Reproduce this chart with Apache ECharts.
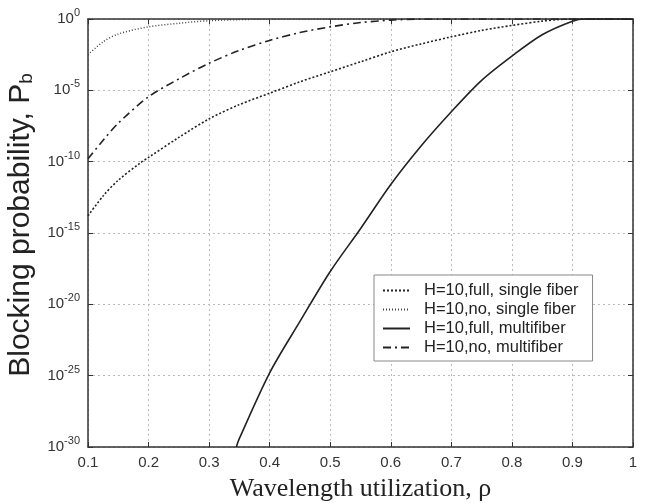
<!DOCTYPE html>
<html><head><meta charset="utf-8">
<script src="https://cdn.jsdelivr.net/npm/echarts@6/dist/echarts.min.js"></script>
<style>html,body{margin:0;padding:0;background:#fff}#c{width:647px;height:503px}</style>
</head><body><div id="c"></div>
<script>
// x values (wavelength utilization) and log10 of blocking probability (exponents)
const fullSingleX = [0.1,0.125,0.15,0.186,0.2,0.25,0.3,0.35,0.4,0.45,0.5,0.55,0.6,0.65,0.7,0.75,0.8,0.85,0.88,0.9,1.0];
const fullSingleE = [-13.8,-12.4,-11.3,-10.1,-9.7,-8.3,-7.0,-6.0,-5.2,-4.4,-3.7,-3.0,-2.3,-1.75,-1.25,-0.8,-0.45,-0.15,-0.03,0,0];
const noSingleX = [0.1,0.125,0.15,0.2,0.25,0.3,0.35,0.4,0.45,1.0];
const noSingleE = [-2.5,-1.6,-1.05,-0.55,-0.3,-0.12,-0.04,-0.01,0,0];
const fullMultiX = [0.345,0.35,0.4,0.45,0.5,0.55,0.6,0.65,0.7,0.75,0.8,0.85,0.9,0.92,1.0];
const fullMultiE = [-30,-29.4,-24.8,-21.2,-17.7,-14.7,-11.6,-8.9,-6.5,-4.3,-2.6,-1.1,-0.15,0,0];
const noMultiX = [0.1,0.125,0.15,0.2,0.25,0.3,0.35,0.4,0.45,0.5,0.55,0.6,0.65,1.0];
const noMultiE = [-9.8,-8.5,-7.3,-5.45,-4.2,-3.1,-2.2,-1.5,-0.95,-0.55,-0.25,-0.08,0,0];
const seriesNames = ['H=10,full, single fiber','H=10,no, single fiber','H=10,full, multifiber','H=10,no, multifiber'];
const xTicks = [0.1,0.2,0.3,0.4,0.5,0.6,0.7,0.8,0.9,1];
const yExpTicks = [-30,-25,-20,-15,-10,-5,0];

function pairs(xs, es){ return xs.map((x,i)=>[x, es[i]]); }

const chart = echarts.init(document.getElementById('c'), null, {renderer:'canvas'});
const axisCol = '#333';
const tickFont = 'Liberation Sans, Arial, sans-serif';
function baseY(show){
  return {
    type:'value', min:-30, max:0, interval:5,
    position: show ? 'left' : 'right',
    axisLine:{show:true, onZero:false, lineStyle:{color:axisCol, width:1.5}},
    axisTick:{show:true, inside:true, length:5, lineStyle:{color:axisCol}},
    axisLabel: show ? {
      show:true, margin:8, color:'#333', fontFamily:tickFont, fontSize:15,
      formatter:function(v){ const e=Math.round(v); return yExpTicks.indexOf(e)>=0 ? '{b|10}{s|'+e+'}' : ''; },
      rich:{ b:{fontSize:15, fontFamily:tickFont, color:'#333'}, s:{fontSize:11, fontFamily:tickFont, color:'#333', padding:[0,0,12,0]} }
    } : {show:false},
    splitLine:{show:show, lineStyle:{color:'#bbb', type:[2,3], width:1}},
    name: show ? '{n|Blocking probability, P}{sub|b}' : '',
    nameLocation:'middle', nameGap:37, nameRotate:90,
    nameTextStyle:{ padding:[0,0,0,16], rich:{ n:{fontSize:30, fontFamily:tickFont, color:'#222'}, sub:{fontSize:19, fontFamily:tickFont, color:'#222', padding:[12,0,0,0]} } }
  };
}
function baseX(show){
  return {
    type:'value', min:0.1, max:1, interval:0.1,
    position: show ? 'bottom' : 'top',
    axisLine:{show:true, onZero:false, lineStyle:{color:axisCol, width:1.5}},
    axisTick:{show:true, inside:true, length:5, lineStyle:{color:axisCol}},
    axisLabel: show ? {show:true, margin:8, color:'#333', fontFamily:tickFont, fontSize:15,
      formatter:function(v){ const r=Math.round(v*10)/10; return xTicks.indexOf(r)>=0 ? String(r) : ''; } } : {show:false},
    splitLine:{show:show, lineStyle:{color:'#bbb', type:[2,3], width:1}},
    name: show ? 'Wavelength utilization, ρ' : '',
    nameLocation:'middle', nameGap:29,
    nameTextStyle:{fontSize:26, fontFamily:'Liberation Serif, Times New Roman, serif', color:'#222'}
  };
}
const lineCommon = {type:'line', showSymbol:false, symbol:'none', smooth:0.3, xAxisIndex:0, yAxisIndex:0, clip:true, animation:false};
chart.setOption({
  animation:false,
  backgroundColor:'#fff',
  grid:{left:88, right:14, top:19, bottom:56, show:false, containLabel:false, outerBoundsMode:'none'},
  xAxis:[baseX(true), baseX(false)],
  yAxis:[baseY(true), baseY(false)],
  legend:{
    orient:'vertical', left:374, top:275,
    padding:[7,14,5,8], itemGap:2, itemWidth:27, itemHeight:14,
    borderColor:'#888', borderWidth:1, backgroundColor:'#fff',
    itemStyle:{color:'transparent', borderWidth:0, opacity:0},
    textStyle:{fontSize:16.5, fontFamily:tickFont, color:'#222', padding:[0,0,0,9]},
    data: seriesNames
  },
  series:[
    Object.assign({}, lineCommon, {name:seriesNames[0], data:pairs(fullSingleX, fullSingleE), lineStyle:{color:'#222', width:1.6, type:[2,2]}, itemStyle:{color:'#222'}}),
    Object.assign({}, lineCommon, {name:seriesNames[1], data:pairs(noSingleX, noSingleE), lineStyle:{color:'#444', width:1.5, type:[1,2]}, itemStyle:{color:'#444'}}),
    Object.assign({}, lineCommon, {name:seriesNames[2], data:pairs(fullMultiX, fullMultiE), lineStyle:{color:'#222', width:1.6, type:'solid'}, itemStyle:{color:'#222'}}),
    Object.assign({}, lineCommon, {name:seriesNames[3], data:pairs(noMultiX, noMultiE), lineStyle:{color:'#222', width:1.6, type:[8,4,2,4]}, itemStyle:{color:'#222'}})
  ]
});
</script></body></html>
